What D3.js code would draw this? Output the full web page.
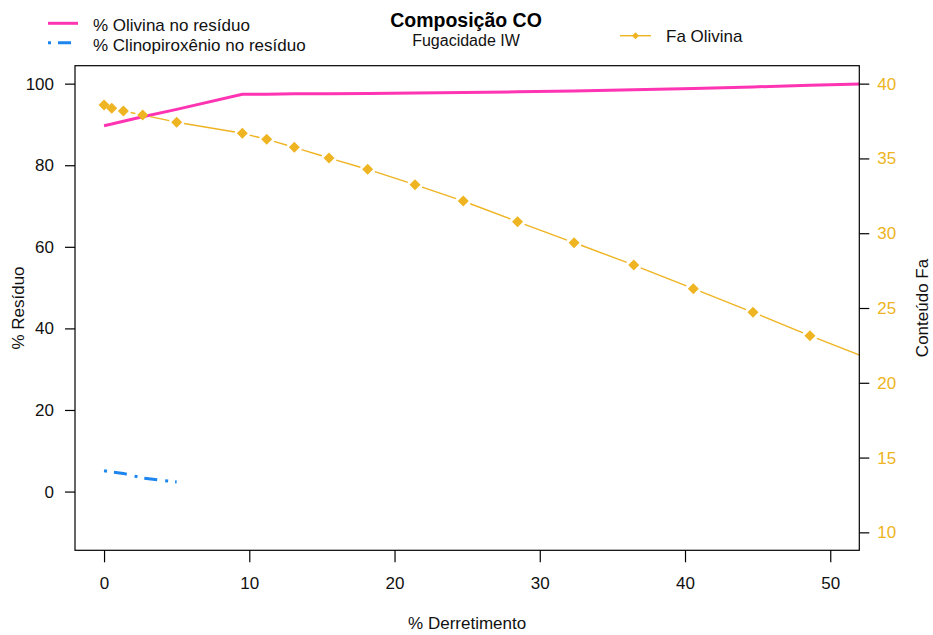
<!DOCTYPE html>
<html>
<head>
<meta charset="utf-8">
<script src="https://cdn.jsdelivr.net/npm/d3@7"></script>
<style>
  body { margin: 0; background: #fff; }
  text { font-family: "Liberation Sans", Arial, sans-serif; }
</style>
</head>
<body>
<svg id="chart" width="933" height="635"></svg>
<script>
// Melting degree (%) for each step of the model
const melt = [0, 0.53, 1.33, 2.66, 5.0, 9.52, 11.2, 13.1, 15.49, 18.15, 21.41, 24.73, 28.47, 32.36, 36.47, 40.57, 44.68, 48.6, 52.7];
// % olivine in the residue
const olivina = [89.7, 90.1, 90.8, 91.9, 93.7, 97.4, 97.4, 97.5, 97.5, 97.6, 97.7, 97.8, 98.0, 98.2, 98.5, 98.8, 99.2, 99.6, 100.0];
// % clinopyroxene in the residue (exhausted after the first steps)
const clinopiroxenio = [5.1, 4.8, 4.45, 3.3, 2.35];
// Fa content of olivine
const faOlivina = [38.57, 38.35, 38.17, 37.9, 37.42, 36.68, 36.28, 35.74, 35.03, 34.27, 33.24, 32.15, 30.77, 29.37, 27.87, 26.29, 24.71, 23.15, 21.6];

const xTicks = [0, 10, 20, 30, 40, 50];
const yLeftTicks = [0, 20, 40, 60, 80, 100];
const yRightTicks = [10, 15, 20, 25, 30, 35, 40];

const colOl = "#FF34B3", colCpx = "#1C86EE", colFa = "#EEB422";
const dotDash = "3,7,13,8";

const svg = d3.select("#chart");
svg.append("rect").attr("width", 933).attr("height", 635).attr("fill", "#fff");

const box = { left: 75, right: 859.3, top: 65.7, bottom: 550.3 };
const x = d3.scaleLinear().domain([-2, 52]).range([box.left, box.right]);
const yL = d3.scaleLinear().domain([-14.4, 104.4]).range([box.bottom, box.top]);
const yR = d3.scaleLinear().domain([8.8, 41.2]).range([box.bottom, box.top]);

svg.append("clipPath").attr("id", "plotclip")
  .append("rect").attr("x", box.left).attr("y", box.top)
  .attr("width", box.right - box.left).attr("height", box.bottom - box.top);

const plot = svg.append("g").attr("clip-path", "url(#plotclip)");

// olivine line
plot.append("path")
  .datum(melt.map((m, i) => [m, olivina[i]]))
  .attr("fill", "none").attr("stroke", colOl).attr("stroke-width", 3)
  .attr("d", d3.line().x(d => x(d[0])).y(d => yL(d[1])));

// clinopyroxene line (dot-dash)
plot.append("path")
  .datum(clinopiroxenio.map((v, i) => [melt[i], v]))
  .attr("fill", "none").attr("stroke", colCpx).attr("stroke-width", 3)
  .attr("stroke-dasharray", dotDash)
  .attr("d", d3.line().x(d => x(d[0])).y(d => yL(d[1])));

// Fa line with gaps around each point
const faPts = melt.map((m, i) => [x(m), yR(faOlivina[i])]);
const gap = 7.5;
const segs = [];
for (let i = 0; i < faPts.length - 1; i++) {
  const [x1, y1] = faPts[i], [x2, y2] = faPts[i + 1];
  const d = Math.hypot(x2 - x1, y2 - y1);
  if (d > 2 * gap) {
    const ux = (x2 - x1) / d, uy = (y2 - y1) / d;
    segs.push([[x1 + ux * gap, y1 + uy * gap], [x2 - ux * gap, y2 - uy * gap]]);
  }
}
plot.selectAll("line.fa").data(segs).join("line").attr("class", "fa")
  .attr("x1", d => d[0][0]).attr("y1", d => d[0][1])
  .attr("x2", d => d[1][0]).attr("y2", d => d[1][1])
  .attr("stroke", colFa).attr("stroke-width", 1.4);

const diamond = r => `M0,${-r}L${r},0L0,${r}L${-r},0Z`;
plot.selectAll("path.fapt").data(melt.map((m, i) => [m, faOlivina[i]])).join("path")
  .attr("class", "fapt")
  .attr("transform", d => `translate(${x(d[0])},${yR(d[1])})`)
  .attr("d", diamond(5.5)).attr("fill", colFa);

// plot frame
svg.append("rect")
  .attr("x", box.left).attr("y", box.top)
  .attr("width", box.right - box.left).attr("height", box.bottom - box.top)
  .attr("fill", "none").attr("stroke", "#000").attr("stroke-width", 1.2);

function styleAxis(g, color) {
  g.select(".domain").remove();
  g.selectAll(".tick line").attr("stroke", "#000").attr("stroke-width", 1.2);
  g.selectAll(".tick text").attr("fill", color).attr("font-size", 17)
    .attr("font-family", '"Liberation Sans", Arial, sans-serif');
}

svg.append("g").attr("transform", `translate(0,${box.bottom})`)
  .call(d3.axisBottom(x).tickValues(xTicks).tickSize(12).tickPadding(15).tickFormat(d3.format("d")))
  .call(g => styleAxis(g, "#111"));

svg.append("g").attr("transform", `translate(${box.left},0)`)
  .call(d3.axisLeft(yL).tickValues(yLeftTicks).tickSize(10).tickPadding(11).tickFormat(d3.format("d")))
  .call(g => styleAxis(g, "#111"));

svg.append("g").attr("transform", `translate(${box.right},0)`)
  .call(d3.axisRight(yR).tickValues(yRightTicks).tickSize(10).tickPadding(8).tickFormat(d3.format("d")))
  .call(g => styleAxis(g, colFa));

// axis titles
svg.append("text").attr("x", (box.left + box.right) / 2).attr("y", 629)
  .attr("text-anchor", "middle").attr("font-size", 17).attr("fill", "#111").text("% Derretimento");
svg.append("text").attr("transform", `translate(24,${(box.top + box.bottom) / 2}) rotate(-90)`)
  .attr("text-anchor", "middle").attr("font-size", 17).attr("fill", "#111").text("% Resíduo");
svg.append("text").attr("transform", `translate(928,${(box.top + box.bottom) / 2}) rotate(-90)`)
  .attr("text-anchor", "middle").attr("font-size", 17).attr("fill", "#111").text("Conteúdo Fa");

// titles
svg.append("text").attr("x", 466).attr("y", 27).attr("text-anchor", "middle")
  .attr("font-size", 19.5).attr("font-weight", "bold").attr("fill", "#000").text("Composição CO");
svg.append("text").attr("x", 466).attr("y", 46).attr("text-anchor", "middle")
  .attr("font-size", 16).attr("fill", "#111").text("Fugacidade IW");

// legends
const legL = svg.append("g");
legL.append("line").attr("x1", 48).attr("x2", 78).attr("y1", 23.3).attr("y2", 23.3)
  .attr("stroke", colOl).attr("stroke-width", 3);
legL.append("text").attr("x", 93).attr("y", 31).attr("font-size", 17).attr("fill", "#111").text("% Olivina no resíduo");
legL.append("line").attr("x1", 48).attr("x2", 78).attr("y1", 42.7).attr("y2", 42.7)
  .attr("stroke", colCpx).attr("stroke-width", 3).attr("stroke-dasharray", dotDash);
legL.append("text").attr("x", 93).attr("y", 50.5).attr("font-size", 17).attr("fill", "#111").text("% Clinopiroxênio no resíduo");

const legR = svg.append("g");
legR.append("line").attr("x1", 620).attr("x2", 651).attr("y1", 35.7).attr("y2", 35.7)
  .attr("stroke", colFa).attr("stroke-width", 1.4);
legR.append("path").attr("transform", "translate(635.5,35.7)").attr("d", diamond(3.5)).attr("fill", colFa);
legR.append("text").attr("x", 666).attr("y", 42).attr("font-size", 17).attr("fill", "#111").text("Fa Olivina");
</script>
</body>
</html>
